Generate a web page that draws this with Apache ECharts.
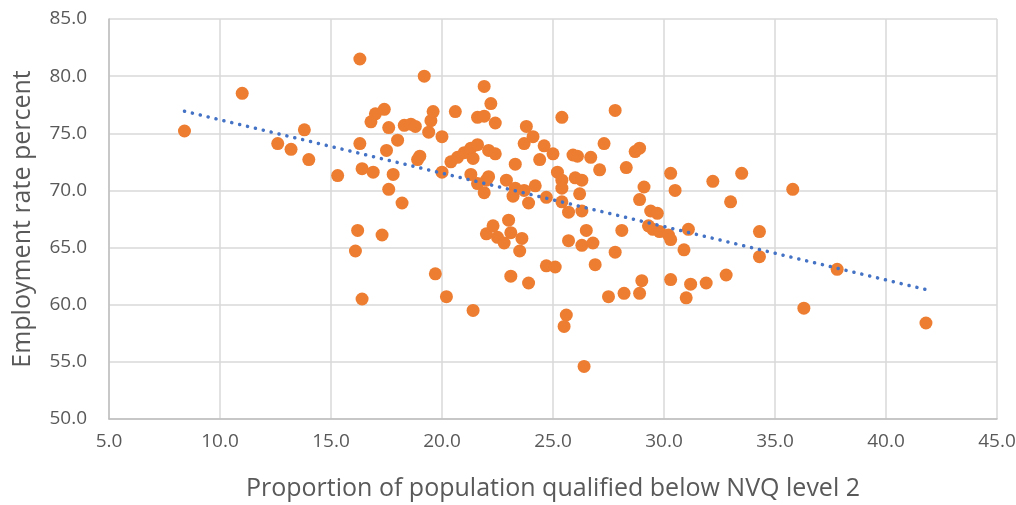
<!DOCTYPE html>
<html>
<head>
<meta charset="utf-8">
<script src="https://cdn.jsdelivr.net/npm/echarts@6/dist/echarts.min.js"></script>
<style>
html,body{margin:0;padding:0;background:#fff;}
#chart{width:1016px;height:505px;}
</style>
</head>
<body>
<div id="chart"></div>
<script>
// Proportion of population qualified below NVQ level 2 (x)
const xValues = [8.4,11.0,12.6,13.2,13.8,14.0,15.3,16.1,16.2,16.3,16.3,16.4,16.4,16.8,16.9,17.0,17.3,17.4,17.5,17.6,17.6,17.8,18.0,18.2,18.3,18.6,18.8,18.9,19.0,19.2,19.4,19.5,19.6,19.7,20.0,20.0,20.2,20.4,20.6,20.7,21.0,21.3,21.4,21.6,21.3,21.4,21.6,21.6,21.9,21.9,21.9,22.0,22.1,22.0,22.1,22.2,22.3,22.4,22.4,22.5,22.8,22.9,23.0,23.1,23.1,23.2,23.3,23.3,23.5,23.6,23.7,23.7,23.8,23.9,23.9,24.1,24.2,24.4,24.6,24.7,24.7,25.0,25.1,25.2,25.4,25.4,25.4,25.4,25.6,25.5,25.7,25.7,25.9,26.0,26.1,26.2,26.3,26.3,26.3,26.4,26.5,26.7,26.8,26.9,27.1,27.3,27.5,27.8,27.8,28.1,28.2,28.3,28.7,28.9,28.9,28.9,29.0,29.1,29.3,29.4,29.5,29.7,29.8,30.2,30.3,30.3,30.3,30.5,30.9,31.0,31.1,31.2,31.9,32.2,32.8,33.0,33.5,34.3,34.3,35.8,36.3,37.8,41.8];
// Employment rate percent (y)
const yValues = [75.2,78.5,74.1,73.6,75.3,72.7,71.3,64.7,66.5,81.5,74.1,71.9,60.5,76.0,71.6,76.7,66.1,77.1,73.5,75.5,70.1,71.4,74.4,68.9,75.7,75.8,75.6,72.7,73.0,80.0,75.1,76.1,76.9,62.7,74.7,71.6,60.7,72.5,76.9,72.9,73.3,73.7,72.8,74.0,71.4,59.5,70.6,76.4,76.5,79.1,69.8,70.9,71.2,66.2,73.5,77.6,66.9,73.2,75.9,65.9,65.4,70.9,67.4,66.3,62.5,69.5,72.3,70.2,64.7,65.8,70.0,74.1,75.6,68.9,61.9,74.7,70.4,72.7,73.9,69.4,63.4,73.2,63.3,71.6,70.9,70.2,69.0,76.4,59.1,58.1,68.1,65.6,73.1,71.1,73.0,69.7,70.9,68.2,65.2,54.6,66.5,72.9,65.4,63.5,71.8,74.1,60.7,77.0,64.6,66.5,61.0,72.0,73.4,73.7,69.2,61.0,62.1,70.3,66.9,68.2,66.6,68.0,66.4,66.1,65.7,71.5,62.2,70.0,64.8,60.6,66.6,61.8,61.9,70.8,62.6,69.0,71.5,66.4,64.2,70.1,59.7,63.1,58.4];
// Linear trendline endpoints
const trendX = [8.4, 41.75];
const trendY = [76.93, 61.35];
const xTicks = {min: 5, max: 45, interval: 5};
const yTicks = {min: 50, max: 85, interval: 5};

const points = xValues.map((x, i) => [x, yValues[i]]);
const trend = trendX.map((x, i) => [x, trendY[i]]);

const chart = echarts.init(document.getElementById('chart'), null, {renderer: 'canvas'});
const font = '"Open Sans", "Liberation Sans", sans-serif';
chart.setOption({
  animation: false,
  backgroundColor: '#ffffff',
  grid: {left: 109, right: 19, top: 19, bottom: 86, containLabel: false, outerBoundsMode: 'none'},
  xAxis: {
    type: 'value', min: xTicks.min, max: xTicks.max, interval: xTicks.interval,
    name: 'Proportion of population qualified below NVQ level 2',
    nameLocation: 'middle', nameGap: 57,
    nameTextStyle: {color: '#595959', fontSize: 25, fontFamily: font},
    axisLine: {show: true, lineStyle: {color: '#bfbfbf', width: 1.5}},
    axisTick: {show: false},
    axisLabel: {color: '#595959', fontSize: 19, fontFamily: font, margin: 13,
      formatter: v => v.toFixed(1)},
    splitLine: {show: true, lineStyle: {color: '#d9d9d9', width: 1.5}}
  },
  yAxis: {
    type: 'value', min: yTicks.min, max: yTicks.max, interval: yTicks.interval,
    name: 'Employment rate percent',
    nameLocation: 'middle', nameGap: 74, nameRotate: 90,
    nameTextStyle: {color: '#595959', fontSize: 25, fontFamily: font},
    axisLine: {show: true, lineStyle: {color: '#bfbfbf', width: 1.5}},
    axisTick: {show: false},
    axisLabel: {color: '#595959', fontSize: 19, fontFamily: font, margin: 22,
      formatter: v => v.toFixed(1)},
    splitLine: {show: true, lineStyle: {color: '#d9d9d9', width: 1.5}}
  },
  series: [
    {
      type: 'scatter', data: points, symbol: 'circle', symbolSize: 13,
      itemStyle: {color: '#ED7D31', opacity: 1}, z: 2
    },
    {
      type: 'line', data: trend, symbol: 'none', z: 3,
      lineStyle: {color: '#4472C4', width: 3.5, type: [0.1, 8], cap: 'round'}
    }
  ]
});
</script>
</body>
</html>
